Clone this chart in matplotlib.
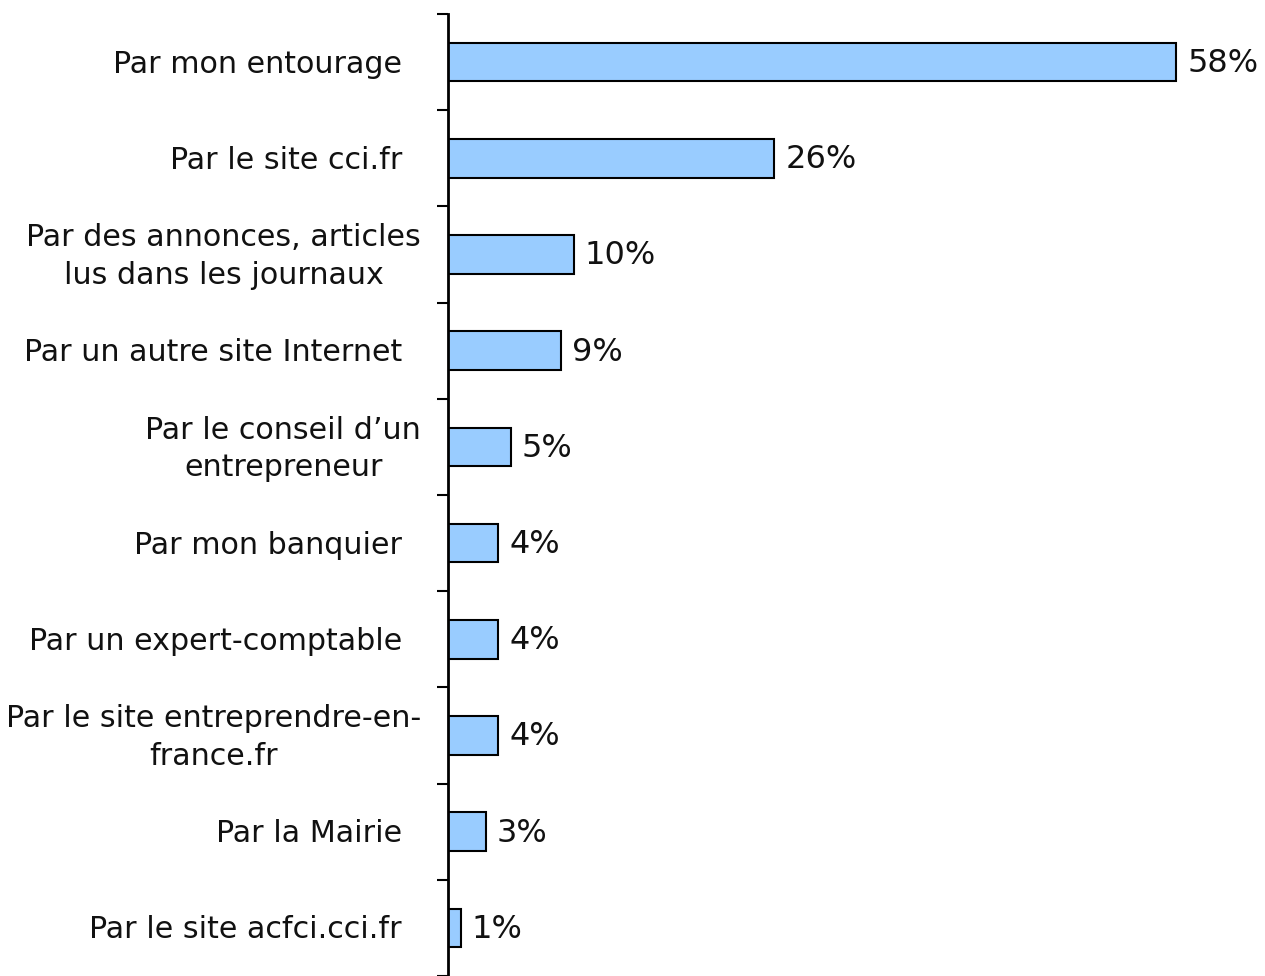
import numpy as np
import matplotlib.pyplot as plt
from matplotlib.transforms import blended_transform_factory, offset_copy

# data
categories = [
    "Par mon entourage",
    "Par le site cci.fr",
    "Par des annonces, articles\nlus dans les journaux",
    "Par un autre site Internet",
    "Par le conseil d\u2019un\nentrepreneur",
    "Par mon banquier",
    "Par un expert-comptable",
    "Par le site entreprendre-en-\nfrance.fr",
    "Par la Mairie",
    "Par le site acfci.cci.fr",
]
values = [58, 26, 10, 9, 5, 4, 4, 4, 3, 1]

plt.rcParams['font.family'] = ['DejaVu Sans']

fig = plt.figure(figsize=(12.65, 9.76), dpi=100)
# axes placed in figure pixels: y axis at x=448, spans y=14..976
ax = fig.add_axes([448 / 1265, 0, 817 / 1265, 962 / 976])

y = np.arange(len(categories))
ax.barh(y, values, height=0.4, color='#99CCFF', edgecolor='black', linewidth=1.5)

ax.set_xlim(0, 58 * 817 / 728)
ax.set_ylim(len(categories) - 0.5, -0.5)

# value labels
for yi, v in zip(y, values):
    ax.annotate(f"{v}%", (v, yi), xytext=(8, -1), textcoords='offset points',
                ha='left', va='center', fontsize=23, color='#111111')

# category labels
trans = blended_transform_factory(ax.transAxes, ax.transData)
for yi, lab in zip(y, categories):
    pad = -27 if '\n' in lab else -46
    t = offset_copy(trans, fig=fig, x=pad, y=-2, units='dots')
    ax.text(0, yi, lab, transform=t, ha='right', va='center',
            multialignment='center', fontsize=21.7, linespacing=1.38,
            color='#111111')

# ticks between categories
ax.set_yticks([])
ax.set_yticks(np.arange(-0.5, len(categories) + 0.5, 1), minor=True)
ax.tick_params(axis='y', which='minor', length=8, width=1.5, direction='out')
ax.set_xticks([])

for s in ['top', 'right', 'bottom']:
    ax.spines[s].set_visible(False)
ax.spines['left'].set_linewidth(2)

fig.savefig('out.png', dpi=100)
